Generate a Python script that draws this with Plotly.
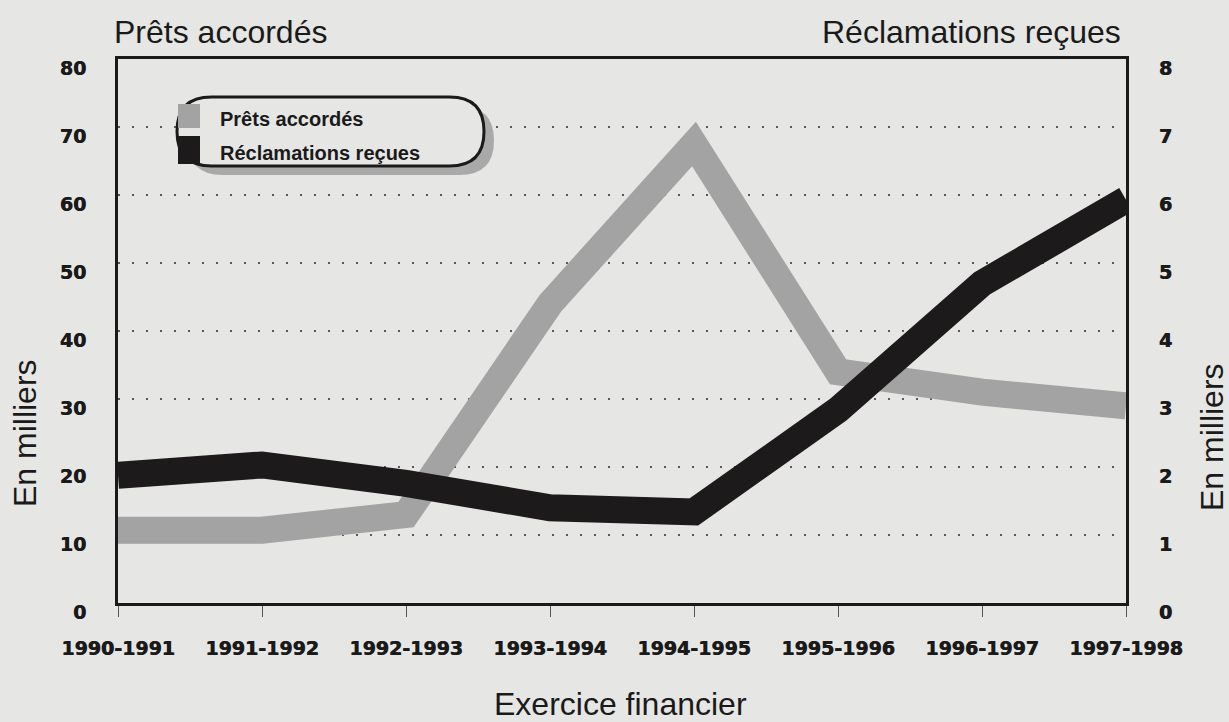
import plotly.graph_objects as go

# Fiscal years on the horizontal axis
exercices = ["1990-1991", "1991-1992", "1992-1993", "1993-1994",
             "1994-1995", "1995-1996", "1996-1997", "1997-1998"]

# Loans granted (thousands, left axis)
prets_accordes = [10.7, 10.7, 13.0, 44.0, 67.5, 34.0, 31.0, 29.0]

# Claims received (thousands, right axis)
reclamations_recues = [1.88, 2.03, 1.76, 1.40, 1.34, 2.84, 4.70, 5.93]

left_ticks = [0, 10, 20, 30, 40, 50, 60, 70, 80]
right_ticks = [0, 1, 2, 3, 4, 5, 6, 7, 8]

PAPER = "#e6e6e4"
GREY_LINE = "#a3a3a3"
DARK_LINE = "#1c1a1b"
FONT = "Liberation Sans, Arial, sans-serif"
TICK_FAMILY = "DejaVu Sans, Verdana, sans-serif"

fig = go.Figure()

fig.add_trace(go.Scatter(
    x=exercices, y=prets_accordes, mode="lines",
    line=dict(color=GREY_LINE, width=27),
    name="Prêts accordés", yaxis="y", showlegend=False,
))
fig.add_trace(go.Scatter(
    x=exercices, y=reclamations_recues, mode="lines",
    line=dict(color=DARK_LINE, width=27),
    name="Réclamations reçues", yaxis="y2", showlegend=False,
))

tick_font = dict(family=TICK_FAMILY, size=19, color="#1a1a1a", weight="bold",
                 shadow="0.6px 0px 0px #1a1a1a")

fig.update_layout(
    width=1229, height=722,
    paper_bgcolor=PAPER, plot_bgcolor=PAPER,
    margin=dict(l=118, r=103, t=59, b=119),
    xaxis=dict(
        type="category", range=[0, 7],
        showgrid=False, zeroline=False,
        showline=True, linecolor="#1a1a1a", linewidth=3, mirror=True,
        ticks="outside", ticklen=11, tickwidth=1, tickcolor="#555",
        tickfont=tick_font, ticklabelstandoff=15,
    ),
    yaxis=dict(
        range=[0, 80], tickvals=left_ticks,
        showgrid=True, gridcolor="#5a5a5a", griddash="2px,12px", gridwidth=2,
        zeroline=False, showline=True, linecolor="#1a1a1a", linewidth=3,
        ticks="", tickfont=tick_font, ticklabelstandoff=25,
        ticklabelshift=9,
    ),
    yaxis2=dict(
        range=[0, 8], tickvals=right_ticks, overlaying="y", side="right",
        showgrid=False, zeroline=False, showline=True,
        linecolor="#1a1a1a", linewidth=3,
        ticks="", tickfont=tick_font, ticklabelstandoff=26,
        ticklabelshift=9,
    ),
)

# Pixel helpers for placing decorations relative to the plot area
L, T = 118, 59
PW, PH = 1229 - 118 - 103, 722 - 59 - 119


def px(x):
    return (x - L) / PW


def py(y):
    return 1 - (y - T) / PH


# Axis and corner titles
title_font = dict(family=FONT, size=32, color="#1a1a1a")
fig.add_annotation(text="Prêts accordés", xref="paper", yref="paper",
                   x=px(112), y=py(32), xanchor="left", yanchor="middle",
                   showarrow=False, font=title_font)
fig.add_annotation(text="Réclamations reçues", xref="paper", yref="paper",
                   x=px(1123), y=py(32), xanchor="right", yanchor="middle",
                   showarrow=False, font=title_font)
fig.add_annotation(text="En milliers", xref="paper", yref="paper",
                   x=px(25), y=py(433), textangle=-90,
                   xanchor="center", yanchor="middle",
                   showarrow=False, font=title_font)
fig.add_annotation(text="En milliers", xref="paper", yref="paper",
                   x=px(1212), y=py(437), textangle=-90,
                   xanchor="center", yanchor="middle",
                   showarrow=False, font=title_font)
fig.add_annotation(text="Exercice financier", xref="paper", yref="paper",
                   x=px(620), y=py(704), xanchor="center", yanchor="middle",
                   showarrow=False, font=title_font)


# Rounded legend box with drop shadow
def pill(x0, y0, x1, y1):
    r = (y1 - y0) / 2
    xs = [x0 + r, x1 - r]
    path = (f"M {px(xs[0])},{py(y0)} L {px(xs[1])},{py(y0)} "
            f"Q {px(x1)},{py(y0)} {px(x1)},{py((y0 + y1) / 2)} "
            f"Q {px(x1)},{py(y1)} {px(xs[1])},{py(y1)} "
            f"L {px(xs[0])},{py(y1)} "
            f"Q {px(x0)},{py(y1)} {px(x0)},{py((y0 + y1) / 2)} "
            f"Q {px(x0)},{py(y0)} {px(xs[0])},{py(y0)} Z")
    return path


fig.add_shape(type="path", xref="paper", yref="paper",
              path=pill(188, 106, 494, 175),
              fillcolor="#a9a9a9", line=dict(width=0), layer="above")
fig.add_shape(type="path", xref="paper", yref="paper",
              path=pill(177, 97, 484, 166),
              fillcolor=PAPER, line=dict(color="#1a1a1a", width=3), layer="above")
fig.add_shape(type="rect", xref="paper", yref="paper",
              x0=px(178), x1=px(200), y0=py(104), y1=py(128),
              fillcolor=GREY_LINE, line=dict(width=0), layer="above")
fig.add_shape(type="rect", xref="paper", yref="paper",
              x0=px(178), x1=px(200), y0=py(136), y1=py(164),
              fillcolor=DARK_LINE, line=dict(width=0), layer="above")

legend_font = dict(family=FONT, size=20, color="#1a1a1a", weight="bold")
fig.add_annotation(text="Prêts accordés", xref="paper", yref="paper",
                   x=px(218), y=py(119), xanchor="left", yanchor="middle",
                   showarrow=False, font=legend_font)
fig.add_annotation(text="Réclamations reçues", xref="paper", yref="paper",
                   x=px(218), y=py(153), xanchor="left", yanchor="middle",
                   showarrow=False, font=legend_font)

fig.write_html("out.html")
